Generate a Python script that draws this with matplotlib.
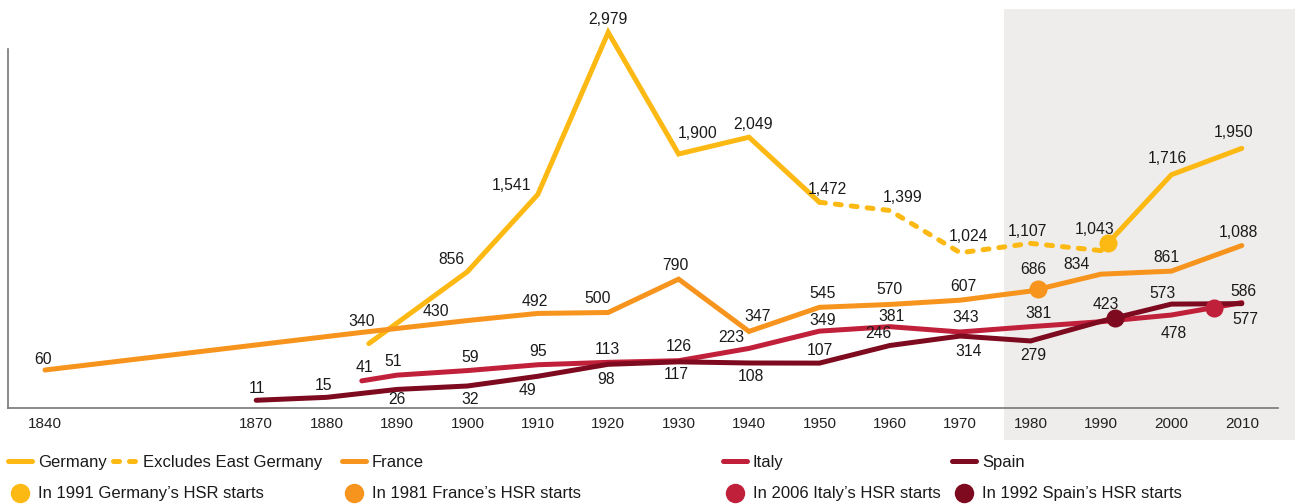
import numpy as np
import matplotlib
matplotlib.use("Agg")
import matplotlib.pyplot as plt
from matplotlib.lines import Line2D

plt.rcParams['font.family'] = ['Liberation Sans', 'DejaVu Sans']

# ---- data ----
germany_years = [1886, 1900, 1910, 1920, 1930, 1940, 1950, 1960, 1970, 1980, 1990, 2000, 2010]
germany_vals = [260, 856, 1541, 2979, 1900, 2049, 1472, 1399, 1024, 1107, 1043, 1716, 1950]
germany_labels = [None, '856', '1,541', '2,979', '1,900', '2,049', '1,472', '1,399',
                  '1,024', '1,107', '1,043', '1,716', '1,950']

france_years = [1840, 1885, 1900, 1910, 1920, 1930, 1940, 1950, 1960, 1970, 1980, 1990, 2000, 2010]
france_vals = [60, 340, 430, 492, 500, 790, 347, 545, 570, 607, 686, 834, 861, 1088]

italy_years = [1885, 1890, 1900, 1910, 1920, 1930, 1940, 1950, 1960, 1970, 1980, 1990, 2000, 2010]
italy_vals = [41, 51, 59, 95, 113, 126, 223, 349, 381, 343, 381, 420, 478, 586]
italy_labels = ['41', '51', '59', '95', '113', '126', '223', '349', '381', '343', '381', None, '478', '586']

spain_years = [1870, 1880, 1890, 1900, 1910, 1920, 1930, 1940, 1950, 1960, 1970, 1980, 1990, 2000, 2010]
spain_vals = [11, 15, 26, 32, 49, 98, 117, 108, 107, 246, 314, 279, 423, 573, 577]

hsr_years = {'Germany': 1991, 'France': 1981, 'Italy': 2006, 'Spain': 1992}
x_ticks = [1840, 1870, 1880, 1890, 1900, 1910, 1920, 1930, 1940, 1950, 1960, 1970, 1980, 1990, 2000, 2010]

# ---- style ----
C_GER = '#FDB913'
C_FRA = '#F7941D'
C_ITA = '#C1203A'
C_SPA = '#7D0A1E'
GREY = '#EEEDEB'
AXC = '#777777'
LW = 3.6

# label offsets in pixels (dx, dy up)
ger_off = [None, (-16, 12), (-26, 9), (0, 13), (19, 21), (4, 13), (8, 13), (13, 13),
           (8, 16), (-3, 12), (-6, 21), (-4, 16), (-8, 16)]
fra_off = [(-2, 11), (0, 11), (-31, 9), (-3, 12), (-11, 14), (-3, 14), (9, 15), (3, 14),
           (0, 15), (3, 14), (3, 22), (-24, 10), (-5, 14), (-3, 13)]
ita_off = [(3, 13), (-4, 14), (3, 13), (0, 13), (-1, 13), (0, 14), (-18, 11), (3, 11),
           (2, 10), (5, 14), (8, 13), None, (2, -18), (2, 11)]
spa_off = [(1, 12), (-3, 12), (0, -10), (3, -13), (-10, -14), (-2, -15), (-2, -13), (2, -14),
           (0, 13), (-11, 12), (8, -15), (3, -15), (5, 17), (-9, 11), (4, -16)]

# the original is hand drawn: low values are stretched, so use a piecewise scale
_bv = np.array([0, 10, 25, 60, 100, 250, 400, 800, 3000, 6000])
_bh = np.array([0, 7, 18, 38, 44, 63, 84, 130, 378, 716])


def fwd(v):
    return np.interp(v, _bv, _bh)


def inv(h):
    return np.interp(h, _bh, _bv)


W, H = 1301, 504
fig = plt.figure(figsize=(W / 100, H / 100), dpi=100)
ax_l, ax_r, ax_t, ax_b = 8, 1295, 9, 408
ax = fig.add_axes([ax_l / W, 1 - ax_b / H, (ax_r - ax_l) / W, (ax_b - ax_t) / H])
ax.set_yscale('function', functions=(fwd, inv))

px_per_year = 7.04
x0 = 1840 - (45 - ax_l) / px_per_year
x1 = 1840 + (ax_r - 45) / px_per_year
ax.set_xlim(x0, x1)
ax.set_ylim(0, inv(ax_b - ax_t))

# shaded recent period
ax.axvspan(1840 + (1004 - 45) / px_per_year, x1, ymin=-32 / (ax_b - ax_t), ymax=1,
           color=GREY, lw=0, zorder=0, clip_on=False)

for s in ['top', 'right']:
    ax.spines[s].set_visible(False)
for s in ['left', 'bottom']:
    ax.spines[s].set_color(AXC)
    ax.spines[s].set_linewidth(1.2)
ax.spines['left'].set_bounds(0, inv(ax_b - 49))
ax.spines['bottom'].set_bounds(x0, 1840 + (1278 - 45) / px_per_year)
ax.set_yticks([])
ax.set_xticks(x_ticks)
ax.set_xticklabels([str(t) for t in x_ticks])
ax.tick_params(axis='x', length=0, pad=6.5, labelsize=11, labelcolor='#222222')
ax.yaxis.set_minor_locator(plt.NullLocator())

lkw = dict(lw=LW, solid_capstyle='round', solid_joinstyle='miter', zorder=3)

# Germany: solid, dashed (excludes East Germany), solid
i50 = germany_years.index(1950)
i90 = germany_years.index(1990)
ax.plot(germany_years[:i50 + 1], germany_vals[:i50 + 1], color=C_GER, **lkw)
ax.plot(germany_years[i50:i90 + 1], germany_vals[i50:i90 + 1], color=C_GER, lw=LW,
        dashes=(1.2, 2.0), dash_capstyle='round', zorder=3)
ax.plot(germany_years[i90:], germany_vals[i90:], color=C_GER, **lkw)
ax.plot(france_years, france_vals, color=C_FRA, **lkw)
ax.plot(italy_years, italy_vals, color=C_ITA, **lkw)
ax.plot(spain_years, spain_vals, color=C_SPA, **lkw)

# HSR start markers
for name, yrs, vals, c in [('Germany', germany_years, germany_vals, C_GER),
                           ('France', france_years, france_vals, C_FRA),
                           ('Italy', italy_years, italy_vals, C_ITA),
                           ('Spain', spain_years, spain_vals, C_SPA)]:
    yr = hsr_years[name]
    ax.plot([yr], [np.interp(yr, yrs, vals)], 'o', color=c, ms=13, mec='none', zorder=4)


def put_labels(yrs, vals, labels, offs):
    for x, v, t, o in zip(yrs, vals, labels, offs):
        if t is None or o is None:
            continue
        ax.annotate(t, (x, v), xytext=(o[0] * 0.72, o[1] * 0.72), textcoords='offset points',
                    ha='center', va='center', fontsize=11.3, color='#1a1a1a', zorder=5)


def fmt(v):
    return f'{v:,}'


put_labels(germany_years, germany_vals, germany_labels, ger_off)
put_labels(france_years, france_vals, [fmt(v) for v in france_vals], fra_off)
put_labels(italy_years, italy_vals, italy_labels, ita_off)
put_labels(spain_years, spain_vals, [fmt(v) for v in spain_vals], spa_off)

# legend, laid out in columns like the original
FS = 12
lg = dict(frameon=False, fontsize=FS, loc='upper left', borderpad=0, borderaxespad=0,
          handlelength=24 / (FS / 0.72), handletextpad=6 / (FS / 0.72), labelspacing=0.98)


def lline(c, **kw):
    return Line2D([], [], color=c, lw=LW, solid_capstyle='round', **kw)


def ldot(c):
    return Line2D([], [], ls='none', marker='o', ms=14, color=c, mec='none')


cols = [
    (8, [lline(C_GER), ldot(C_GER)], ['Germany', 'In 1991 Germany\u2019s HSR starts']),
    (113, [Line2D([], [], color=C_GER, lw=LW, dashes=(1.2, 2.0), dash_capstyle='round')],
     ['Excludes East Germany']),
    (342, [lline(C_FRA), ldot(C_FRA)], ['France', 'In 1981 France\u2019s HSR starts']),
    (723, [lline(C_ITA), ldot(C_ITA)], ['Italy', 'In 2006 Italy\u2019s HSR starts']),
    (952, [lline(C_SPA), ldot(C_SPA)], ['Spain', 'In 1992 Spain\u2019s HSR starts']),
]
for xpix, hs, ls in cols:
    leg = fig.legend(hs, ls, bbox_to_anchor=(xpix / W, 1 - 455 / H), **lg)
    for t in leg.get_texts():
        t.set_color('#1a1a1a')

fig.savefig('out.png', dpi=100)
